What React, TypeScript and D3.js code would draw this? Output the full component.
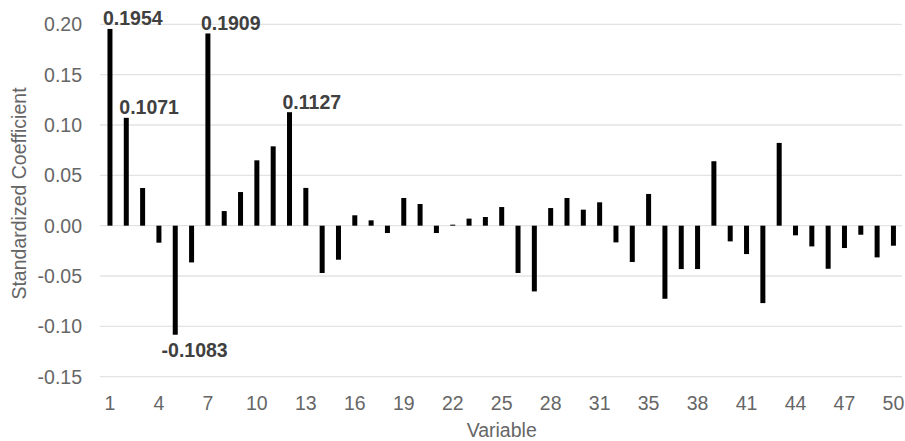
import React from "react";
import * as d3 from "d3";

// Variable numbers (variable 34 is absent from the model)
const variables: string[] = [
  "1", "2", "3", "4", "5", "6", "7", "8", "9", "10",
  "11", "12", "13", "14", "15", "16", "17", "18", "19", "20",
  "21", "22", "23", "24", "25", "26", "27", "28", "29", "30",
  "31", "32", "33", "35", "36", "37", "38", "39", "40", "41",
  "42", "43", "44", "45", "46", "47", "48", "49", "50",
];

// Standardized regression coefficients, one per variable
const coefficients: number[] = [
  0.1954, 0.1071, 0.0374, -0.0169, -0.1083, -0.0365, 0.1909, 0.0145, 0.0334, 0.0649,
  0.0788, 0.1127, 0.0375, -0.047, -0.0338, 0.0103, 0.0053, -0.0073, 0.0275, 0.0215,
  -0.0073, 0.001, 0.007, 0.0086, 0.0185, -0.047, -0.0653, 0.0175, 0.0275, 0.0159,
  0.0232, -0.0166, -0.0361, 0.0315, -0.0726, -0.0431, -0.0431, 0.064, -0.0156, -0.0282,
  -0.0769, 0.0822, -0.0096, -0.0206, -0.0428, -0.0222, -0.009, -0.0315, -0.0199,
];

// Variables whose coefficient is printed above/below the bar
const labelledVariables: string[] = ["1", "2", "5", "7", "12"];

const yTicks: number[] = [0.2, 0.15, 0.1, 0.05, 0, -0.05, -0.1, -0.15];

const W = 905;
const H = 441;
const FONT = "'Liberation Sans', Arial, sans-serif";

export default function App() {
  const x = d3
    .scaleBand<string>()
    .domain(variables)
    .range([101.8, 901.6])
    .paddingInner(0)
    .paddingOuter(0);
  const y = d3.scaleLinear().domain([-0.15, 0.2]).range([376.7, 24.3]);
  const bw = 5;
  const fmt = (t: number) => t.toFixed(2).replace("-0.00", "0.00");
  const centre = (v: string) => (x(v) as number) + x.bandwidth() / 2;

  // every third variable gets a tick label
  const xLabels = variables.filter((_, i) => i % 3 === 0);

  return (
    <svg
      width={W}
      height={H}
      style={{ position: "absolute", left: 0, top: 0, background: "#fff" }}
      fontFamily={FONT}
    >
      {/* horizontal gridlines */}
      {yTicks.map((t) => (
        <line
          key={"g" + t}
          x1={100}
          x2={902}
          y1={y(t)}
          y2={y(t)}
          stroke="#e3e3e3"
          strokeWidth={1.3}
        />
      ))}

      {/* y tick labels */}
      {yTicks.map((t) => (
        <text
          key={"yt" + t}
          x={82}
          y={y(t)}
          dy="0.36em"
          textAnchor="end"
          fontSize={19.5}
          fill="#666"
        >
          {fmt(t)}
        </text>
      ))}

      {/* bars */}
      {variables.map((v, i) => {
        const val = coefficients[i];
        const y0 = y(0);
        const y1 = y(val);
        return (
          <rect
            key={"b" + v}
            x={centre(v) - bw / 2}
            width={bw}
            y={Math.min(y0, y1)}
            height={Math.max(Math.abs(y1 - y0), 0.6)}
            fill="#000"
          />
        );
      })}

      {/* value labels */}
      {variables.map((v, i) => {
        if (!labelledVariables.includes(v)) return null;
        const val = coefficients[i];
        const neg = val < 0;
        const xs = centre(v) - 7 - (neg ? 6.7 : 0);
        const ys = neg ? y(val) + 22 : y(val) - 3.5;
        return (
          <text
            key={"l" + v}
            x={xs}
            y={ys}
            fontSize={19.5}
            fontWeight="bold"
            fill="#404040"
          >
            {val.toFixed(4)}
          </text>
        );
      })}

      {/* x tick labels */}
      {xLabels.map((v) => (
        <text
          key={"xt" + v}
          x={centre(v)}
          y={409.5}
          textAnchor="middle"
          fontSize={19.5}
          fill="#666"
        >
          {v}
        </text>
      ))}

      {/* axis titles */}
      <text
        x={(101.8 + 901.6) / 2}
        y={437}
        textAnchor="middle"
        fontSize={19.5}
        fill="#666"
      >
        Variable
      </text>
      <text
        transform={`translate(26,193.5) rotate(-90)`}
        textAnchor="middle"
        fontSize={19.5}
        fill="#666"
      >
        Standardized Coefficient
      </text>
    </svg>
  );
}
